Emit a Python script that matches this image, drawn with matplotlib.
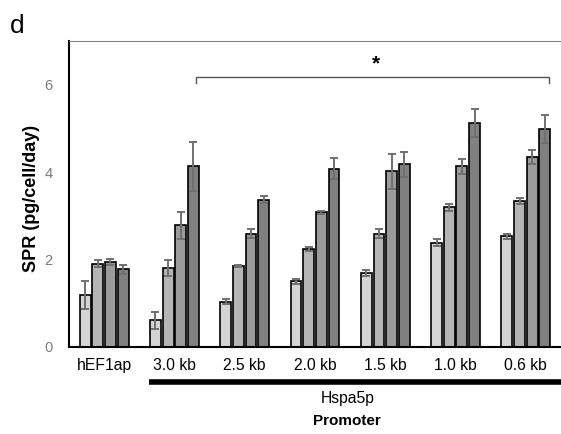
import numpy as np
import matplotlib.pyplot as plt

plt.rcParams['font.family'] = ['Liberation Sans', 'DejaVu Sans']

groups = ['hEF1ap', '3.0 kb', '2.5 kb', '2.0 kb', '1.5 kb', '1.0 kb', '0.6 kb']

# four series per promoter (light -> dark)
s1 = [1.19, 0.61, 1.04, 1.50, 1.70, 2.39, 2.53]
s2 = [1.90, 1.81, 1.85, 2.24, 2.59, 3.20, 3.33]
s3 = [1.94, 2.78, 2.59, 3.08, 4.02, 4.13, 4.34]
s4 = [1.78, 4.13, 3.37, 4.08, 4.18, 5.12, 4.99]
e1 = [0.32, 0.19, 0.06, 0.05, 0.07, 0.09, 0.05]
e2 = [0.08, 0.19, 0.03, 0.04, 0.10, 0.08, 0.07]
e3 = [0.07, 0.30, 0.10, 0.04, 0.40, 0.18, 0.16]
e4 = [0.10, 0.55, 0.08, 0.24, 0.28, 0.32, 0.32]

series = [s1, s2, s3, s4]
errors = [e1, e2, e3, e4]
colors = ['#d4d4d4', '#b5b5b5', '#9b9b9b', '#808080']

fig = plt.figure(figsize=(5.61, 4.34), dpi=100)
ax = fig.add_axes([0.123, 0.2005, 0.877, 0.705])

x = np.arange(len(groups))
pitch = 0.18
w = 0.155
for i, (vals, errs, c) in enumerate(zip(series, errors, colors)):
    pos = x + (i - 1.5) * pitch
    ax.bar(pos, vals, width=w, color=c, edgecolor='black', linewidth=1.2, zorder=2)
    ax.errorbar(pos, vals, yerr=errs, fmt='none', ecolor='#707070',
                elinewidth=1.4, capsize=3, capthick=1.4, zorder=3)

ax.set_xlim(-0.5, 6.5)
ax.set_ylim(0, 7)
ax.set_yticks([0, 2, 4, 6])
ax.set_xticks(x)
ax.set_xticklabels(groups, fontsize=11.3)
ax.tick_params(axis='x', length=0, pad=8)
ax.tick_params(axis='y', length=0, labelcolor='#7a7a7a', labelsize=10.5, pad=12)

ax.spines['left'].set_linewidth(1.5)
ax.spines['bottom'].set_linewidth(1.5)
ax.spines['top'].set_color('#808080')
ax.spines['top'].set_linewidth(0.8)
ax.spines['right'].set_visible(False)

ax.set_ylabel('SPR (pg/cell/day)', fontsize=13, fontweight='bold')
ax.yaxis.set_label_coords(-0.059, 0.487)

# significance bracket
b_left = 1.30
b_right = 6.33
ax.plot([b_left, b_left, b_right, b_right], [6.04, 6.18, 6.18, 6.04],
        color='#555555', lw=1, clip_on=False)
ax.text(3.87, 6.47, '*', ha='center', va='center',
        fontsize=15, fontweight='bold')

# Hspa5p group bar and labels
trans = ax.get_xaxis_transform()
ax.plot([0.64, 6.55], [-0.114, -0.114], color='black', lw=4,
        transform=trans, clip_on=False, solid_capstyle='butt')
ax.text(3.46, -0.167, 'Hspa5p', transform=trans, ha='center', va='center', fontsize=11.3)
ax.text(3.46, -0.242, 'Promoter', transform=trans, ha='center', va='center',
        fontsize=11, fontweight='bold')

fig.text(0.018, 0.94, 'd', fontsize=19, va='center', ha='left')

fig.savefig('out.png', dpi=100)
